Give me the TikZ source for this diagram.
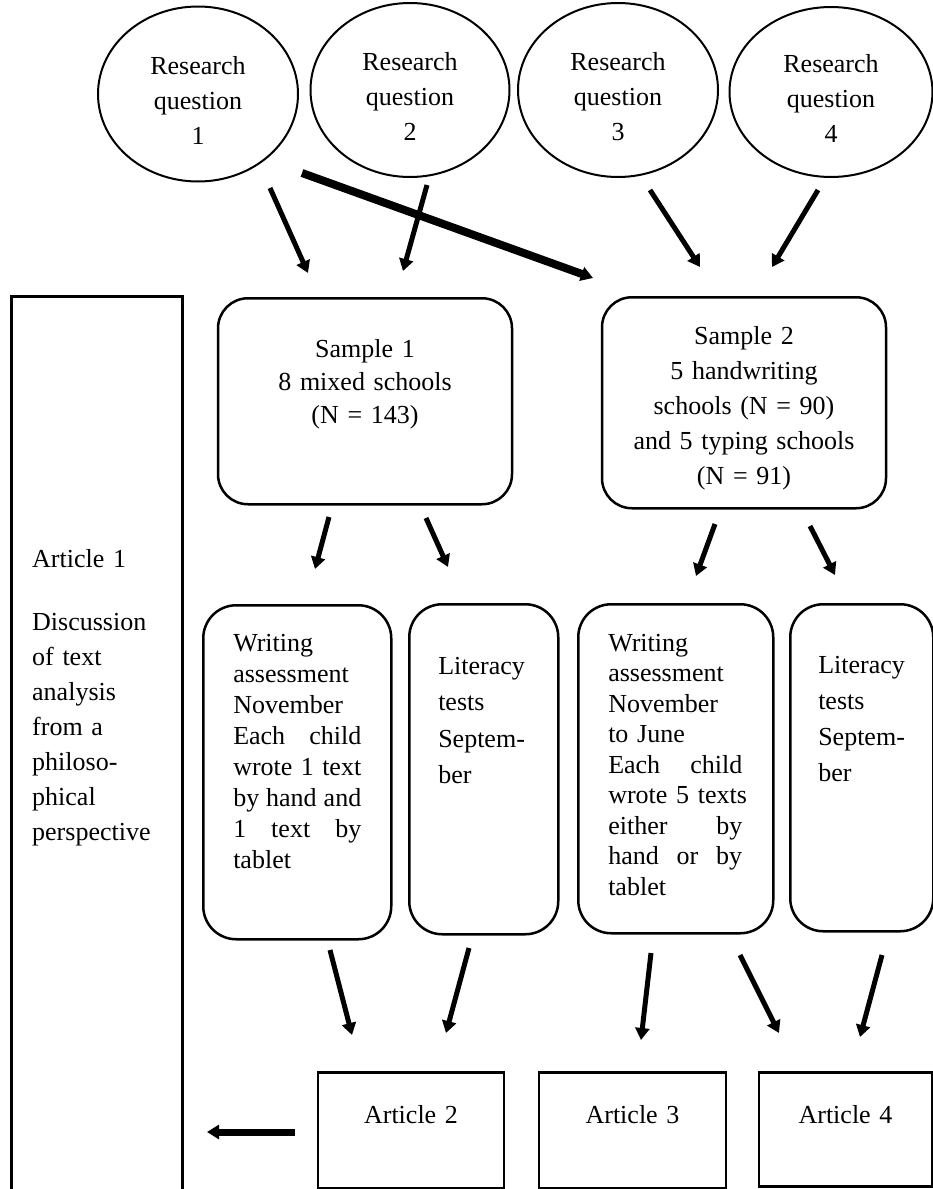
\documentclass[tikz,border=0pt]{standalone}
\usepackage{fontspec}
\setmainfont{Liberation Serif}
\usetikzlibrary{shapes.geometric,arrows.meta}
\newcommand{\fullline}[2]{\leavevmode\hbox to #1{#2}}

\begin{document}
\begin{tikzpicture}[
    x=1pt, y=-1pt,
    font=\fontsize{26pt}{35pt}\selectfont,
    >={Triangle[width=14pt,length=12pt]}
  ]
  \tikzset{
    question/.style={draw, ellipse, line width=2pt, align=center, inner sep=0pt, text width=130pt, text height=30pt, text depth=70pt},
    samplebox/.style={draw, line width=2.5pt, rounded corners=30pt, align=center, inner ysep=0pt, inner xsep=10pt, anchor=north, font=\fontsize{26pt}{33pt}\selectfont},
    taskbox/.style={draw, line width=2.5pt, rounded corners=33pt, align=left, inner ysep=0pt, anchor=north west},
    artbox/.style={draw, line width=2.5pt, align=center, inner ysep=0pt, inner xsep=10pt, anchor=north},
    arrow/.style={->, line width=5pt},
    bigarrow/.style={->, line width=8pt}
  }
  \useasboundingbox (0,0) rectangle (933,1189);

  % research questions
  \node (rq1) [question, minimum width=200pt, minimum height=175pt] at (198,94) {Research\\question\\1};
  \node (rq2) [question, minimum width=199pt, minimum height=174pt] at (410,90) {Research\\question\\2};
  \node (rq3) [question, minimum width=200pt, minimum height=174pt] at (618,90) {Research\\question\\3};
  \node (rq4) [question, minimum width=203pt, minimum height=170pt] at (831,92) {Research\\question\\4};

  % samples
  \node (s1) [samplebox, text width=274pt, text height=59pt, text depth=147pt] at (365,297)
    {Sample 1\\8 mixed schools\\(N = 143)};
  \node (s2) [samplebox, font=\fontsize{26pt}{35pt}\selectfont, text width=264pt, text height=47pt,
    text depth=164pt] at (744,296)
    {Sample 2\\5 handwriting\\schools (N = 90)\\and 5 typing schools\\(N = 91)};

  % article 1 column (open at the bottom)
  \node (a1) [align=left, anchor=north west, inner ysep=0pt, inner xsep=21pt, text width=129pt,
    text height=271pt, text depth=640pt] at (11,296)
    {Article 1\\[28pt]Discussion\\of text\\analysis\\from a\\philoso-\\phical\\perspective};
  \draw[line width=3pt] (a1.south west) -- (a1.north west) -- (a1.north east) -- (a1.south east);

  % data collection
  \node (wa1) [taskbox, font=\fontsize{26pt}{31pt}\selectfont, text width=128pt, inner xsep=30pt,
    text height=46pt, text depth=288pt] at (202,604)
    {Writing\\assessment\\November\\\fullline{128pt}{Each\hfil child}\\\fullline{128pt}{wrote\hfil 1\hfil text}\\
     \fullline{128pt}{by\hfil hand\hfil and}\\\fullline{128pt}{1\hfil text\hfil by}\\tablet};
  \node (lt1) [taskbox, font=\fontsize{26pt}{36.5pt}\selectfont, text width=91pt, inner xsep=29pt,
    text height=70pt, text depth=260pt] at (408,603)
    {Literacy\\tests\\Septem-\\ber};
  \node (wa2) [taskbox, font=\fontsize{26pt}{30.5pt}\selectfont, text width=135pt, inner xsep=30pt,
    text height=47pt, text depth=282pt] at (577,603)
    {Writing\\assessment\\November\\to June\\\fullline{134pt}{Each\hfil child}\\\fullline{134pt}{wrote 5 texts}\\
     \fullline{134pt}{either\hfil by}\\\fullline{134pt}{hand\hfil or\hfil by}\\tablet};
  \node (lt2) [taskbox, font=\fontsize{26pt}{36pt}\selectfont, text width=87pt, inner xsep=28pt,
    text height=69pt, text depth=258pt] at (789,603)
    {Literacy\\tests\\Septem-\\ber};

  % articles
  \node (art2) [artbox, text width=166pt, text height=51pt, text depth=65pt] at (411,1071) {Article 2};
  \node (art3) [artbox, text width=167pt, text height=51pt, text depth=65pt] at (632.5,1071) {Article 3};
  \node (art4) [artbox, text width=153pt, text height=51pt, text depth=63pt] at (845.5,1071) {Article 4};

  % arrow end points
  \coordinate (q1a) at (270,188); \coordinate (q1b) at (308,273);
  \coordinate (q2a) at (427,185); \coordinate (q2b) at (403,271);
  \coordinate (q1c) at (302,173); \coordinate (q1d) at (593,278);
  \coordinate (q3a) at (650,190); \coordinate (q3b) at (700,267);
  \coordinate (q4a) at (818,190); \coordinate (q4b) at (772,267);

  \coordinate (s1a) at (329,517); \coordinate (s1b) at (315,569);
  \coordinate (s1c) at (426,518); \coordinate (s1d) at (448,567);
  \coordinate (s2a) at (715,524); \coordinate (s2b) at (696,576);
  \coordinate (s2c) at (810,526); \coordinate (s2d) at (835,575);

  \coordinate (w1a) at (330,950); \coordinate (w1b) at (352,1035);
  \coordinate (l1a) at (469,948); \coordinate (l1b) at (446,1033);
  \coordinate (w2a) at (651,953); \coordinate (w2b) at (641,1040);
  \coordinate (w2c) at (740,955); \coordinate (w2d) at (779,1033);
  \coordinate (l2a) at (882,955); \coordinate (l2b) at (860,1037);
  \coordinate (a2a) at (295,1132); \coordinate (a2b) at (207,1132);

  \draw[arrow] (q1a) -- (q1b);
  \draw[arrow] (q2a) -- (q2b);
  \draw[bigarrow] (q1c) -- (q1d);
  \draw[arrow] (q3a) -- (q3b);
  \draw[arrow] (q4a) -- (q4b);

  \draw[arrow] (s1a) -- (s1b);
  \draw[arrow] (s1c) -- (s1d);
  \draw[arrow] (s2a) -- (s2b);
  \draw[arrow] (s2c) -- (s2d);

  \draw[arrow] (w1a) -- (w1b);
  \draw[arrow] (l1a) -- (l1b);
  \draw[arrow] (w2a) -- (w2b);
  \draw[arrow] (w2c) -- (w2d);
  \draw[arrow] (l2a) -- (l2b);
  \draw[arrow, line width=7pt] (a2a) -- (a2b);
\end{tikzpicture}
\end{document}
